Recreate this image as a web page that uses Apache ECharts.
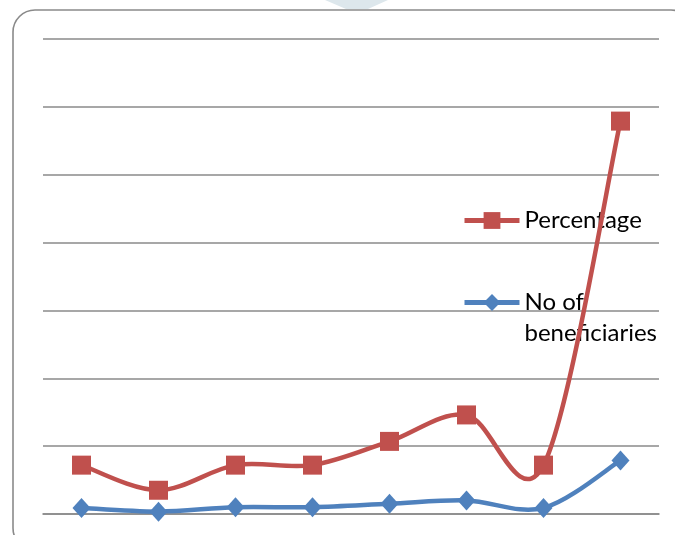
<!DOCTYPE html>
<html>
<head>
<meta charset="utf-8">
<script src="https://cdn.jsdelivr.net/npm/echarts@6/dist/echarts.min.js"></script>
<style>
  html, body { margin: 0; padding: 0; background: #fff; }
  #chart { width: 675px; height: 535px; }
</style>
</head>
<body>
<div id="chart"></div>
<script>
// Eight reporting groups along the horizontal axis (unlabelled)
const categories = ['1', '2', '3', '4', '5', '6', '7', '8'];

// Percentage series (red, square markers)
const percentage = [7.2, 3.5, 7.2, 7.2, 10.7, 14.6, 7.2, 57.9];

// Number of beneficiaries (blue, diamond markers)
const beneficiaries = [0.9, 0.35, 1.0, 1.0, 1.5, 2.0, 0.9, 7.9];

// Value axis range and gridline spacing
const yMin = 0, yMax = 70, yStep = 10;

const RED = '#C0504D';
const BLUE = '#4F81BD';
const FONT = 'Lato';
const LINE_W = 4.5;

// Smoothed connector: one cubic Bezier per segment, tangents taken from the
// neighbouring points (Catmull-Rom style), positioned through the axes.
function smoothSegment(values, color) {
  return function (params, api) {
    const i = params.dataIndex;
    const n = values.length;
    if (i >= n - 1) return null;
    const pt = k => api.coord([Math.max(0, Math.min(n - 1, k)), values[Math.max(0, Math.min(n - 1, k))]]);
    const p0 = pt(i - 1), p1 = pt(i), p2 = pt(i + 1), p3 = pt(i + 2);
    return {
      type: 'bezierCurve',
      shape: {
        x1: p1[0], y1: p1[1],
        x2: p2[0], y2: p2[1],
        cpx1: p1[0] + (p2[0] - p0[0]) / 6, cpy1: p1[1] + (p2[1] - p0[1]) / 6,
        cpx2: p2[0] - (p3[0] - p1[0]) / 6, cpy2: p2[1] - (p3[1] - p1[1]) / 6
      },
      style: { stroke: color, lineWidth: LINE_W, fill: null, lineCap: 'round' },
      silent: true
    };
  };
}

const chart = echarts.init(document.getElementById('chart'));

const legendText = { fontFamily: FONT, fontSize: 24, color: '#000', lineHeight: 31 };

chart.setOption({
  animation: false,
  backgroundColor: '#ffffff',
  grid: { left: 43, right: 16, top: 39, bottom: 21, containLabel: false },
  xAxis: {
    type: 'category',
    data: categories,
    boundaryGap: true,
    axisLine: { show: true, lineStyle: { color: '#8a8a8a', width: 1.6 } },
    axisTick: { show: false },
    axisLabel: { show: false }
  },
  yAxis: {
    type: 'value',
    min: yMin, max: yMax, interval: yStep,
    axisLine: { show: false },
    axisTick: { show: false },
    axisLabel: { show: false },
    splitLine: { lineStyle: { color: '#8a8a8a', width: 1.6 } }
  },
  legend: [
    {
      data: ['Percentage'],
      orient: 'vertical',
      left: 462, top: 205, padding: 0, z: 1,
      itemWidth: 55, itemHeight: 21,
      lineStyle: { width: 5, opacity: 1 },
      textStyle: legendText
    },
    {
      data: ['No of beneficiaries'],
      orient: 'vertical',
      left: 462, top: 256, padding: 0, z: 1,
      itemWidth: 55, itemHeight: 21,
      lineStyle: { width: 5, opacity: 1 },
      // first line sits level with the icon, the rest wraps below it
      formatter: function (name) { return '\n' + name.replace('of ', 'of\n'); },
      textStyle: legendText
    }
  ],
  series: [
    {
      name: 'No of beneficiaries',
      type: 'line',
      data: beneficiaries,
      symbol: 'diamond',
      symbolSize: [18, 20],
      z: 5,
      lineStyle: { color: BLUE, width: LINE_W, opacity: 0 },
      itemStyle: { color: BLUE }
    },
    {
      name: 'Percentage',
      type: 'line',
      data: percentage,
      symbol: 'rect',
      symbolSize: 19,
      z: 6,
      lineStyle: { color: RED, width: LINE_W, opacity: 0 },
      itemStyle: { color: RED }
    },
    {
      name: 'No of beneficiaries',
      type: 'custom',
      data: beneficiaries.map((v, i) => [i, v]),
      encode: { x: 0, y: 1 },
      z: 3,
      renderItem: smoothSegment(beneficiaries, BLUE)
    },
    {
      name: 'Percentage',
      type: 'custom',
      data: percentage.map((v, i) => [i, v]),
      encode: { x: 0, y: 1 },
      z: 4,
      renderItem: smoothSegment(percentage, RED)
    }
  ],
  graphic: [
    {
      type: 'polygon',
      silent: true,
      z: -1,
      shape: { points: [[325, 0], [388, 0], [368, 9], [346, 9]] },
      style: { fill: '#dde7ec' }
    },
    {
      type: 'rect',
      silent: true,
      z: 10,
      shape: { x: 13, y: 10, width: 680, height: 540, r: 22 },
      style: { fill: 'none', stroke: '#8a8a8a', lineWidth: 1.6 }
    }
  ]
});
</script>
</body>
</html>
